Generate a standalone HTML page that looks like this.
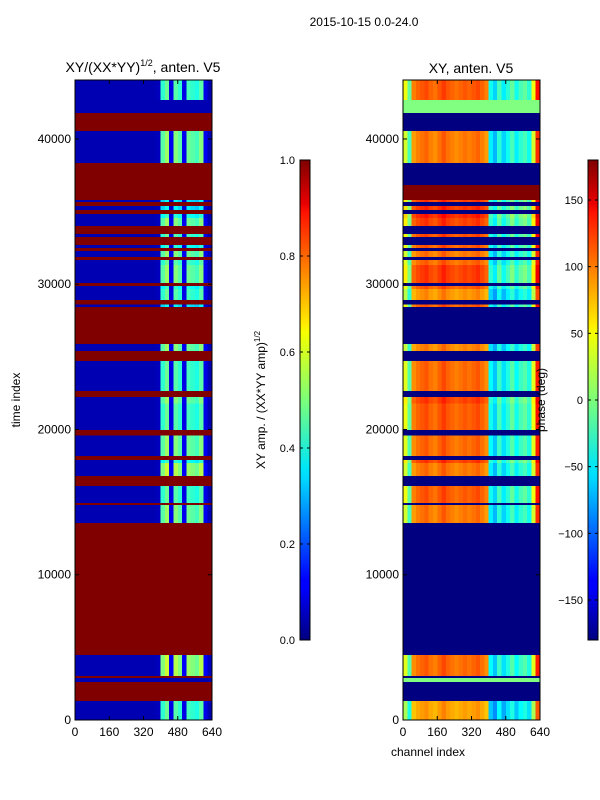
<!DOCTYPE html>
<html><head><meta charset="utf-8"><style>
body{margin:0;background:#fff;}
svg{display:block;font-family:"Liberation Sans","DejaVu Sans",sans-serif;}
</style></head><body>
<svg id="fig" width="600" height="800" viewBox="0 0 600 800">
<defs>
<linearGradient id="jetg" x1="0" y1="1" x2="0" y2="0">
<stop offset="0" stop-color="#00007f"/><stop offset="0.11" stop-color="#0000ff"/><stop offset="0.125" stop-color="#0000ff"/>
<stop offset="0.34" stop-color="#00dcff"/><stop offset="0.36" stop-color="#00e6f6"/><stop offset="0.5" stop-color="#7cff79"/>
<stop offset="0.64" stop-color="#f6ff00"/><stop offset="0.66" stop-color="#ffea00"/><stop offset="0.89" stop-color="#ff1300"/>
<stop offset="0.91" stop-color="#e80000"/><stop offset="1" stop-color="#7f0000"/>
</linearGradient>
</defs>
<text x="364" y="26" font-size="12" text-anchor="middle">2015-10-15 0.0-24.0</text>
<g id="left"></g>
<g id="right"></g>
<g id="axes"></g>
</svg>
<script>
// band edges in time index (top to bottom) and kind: D=data, F=flagged, G=green(phase-only), R=red phase
const bandStart=[44060,42680,41790,40550,38350,36830,35800,35660,35390,35110,34840,34560,34010,33460,33260,32710,32500,32290,31880,31670,31320,30080,29870,29660,28900,28620,28420,25870,25390,24700,22640,22230,21790,19980,19570,18190,17910,17700,16800,16100,14930,14800,13560,4480,3030,2890,2620,1310];
const bandEnd=  [42680,41790,40550,38350,36830,35800,35660,35390,35110,34840,34560,34010,33460,33260,32710,32500,32290,31880,31670,31320,30080,29870,29660,28900,28620,28420,25870,25390,24700,22640,22230,21790,19980,19570,18190,17910,17700,16800,16100,14930,14800,13560,4480,3030,2890,2620,1310,0];
const bandKind= ["D","G","F","D","F","R","D","F","D","F","D","D","F","D","F","D","F","D","F","D","D","F","D","D","F","D","F","D","F","D","F","D","D","F","D","F","D","D","F","D","F","D","F","D","F","G","F","D"];
const bandGain= [1.0,1,1,1.1,1,1,0.8,1,0.8,1,0.9,1.1,1,1.0,1,0.9,1,1.1,1,1.0,1.1,1,0.9,1.0,1,0.8,1,1.1,1,1.0,1,1.1,1.0,1,1.1,1,0.9,1.2,1,1.0,1,1.1,1,1.2,1,1,1,1.0];
const bandPhase=[0,0,0,-10,0,0,10,0,15,0,20,10,0,5,0,0,0,-10,0,-5,10,0,0,-20,0,0,0,-15,0,-5,0,10,0,0,-5,0,10,-10,0,0,0,-10,0,-5,0,0,0,-25];
// channel profile (32 bins of 20 channels)
const ampProfile=[0.05,0.05,0.05,0.05,0.05,0.05,0.05,0.05,0.05,0.05,0.05,0.05,0.05,0.05,0.05,0.05,0.05,0.05,0.05,0.06,0.42,0.48,0.1,0.46,0.42,0.1,0.44,0.42,0.4,0.46,0.1,0.05];
const phaseProfile=[40,-10,90,100,105,110,100,95,105,115,105,100,95,100,105,100,105,110,100,90,-40,-60,-20,-50,-30,-10,-40,-20,-10,-30,40,130];
const yTicks=[0,10000,20000,30000,40000];
const xTicks=[0,160,320,480,640];
const ampTicks=[0.0,0.2,0.4,0.6,0.8,1.0];
const phaseTicks=[-150,-100,-50,0,50,100,150];
const NS="http://www.w3.org/2000/svg";
const PY0=720,PY1=80,TMAX=44060;
const yS=t=>PY0-(t/TMAX)*(PY0-PY1);
function xS(x0,ch){return x0+ch/640*137;}
function jet(v){v=Math.max(0,Math.min(1,v));
 const r=Math.min(4*v-1.5,-4*v+4.5),g=Math.min(4*v-0.5,-4*v+3.5),b=Math.min(4*v+0.5,-4*v+2.5);
 const c=x=>Math.round(255*Math.max(0,Math.min(1,x)));return `rgb(${c(r)},${c(g)},${c(b)})`;}
function el(tag,attrs,parent){const e=document.createElementNS(NS,tag);for(const k in attrs)e.setAttribute(k,attrs[k]);parent.appendChild(e);return e;}
const L=document.getElementById('left'),R=document.getElementById('right'),A=document.getElementById('axes');
for(let i=0;i<bandStart.length;i++){
 const y0=yS(bandStart[i]),y1=yS(bandEnd[i]),k=bandKind[i];
 for(let j=0;j<32;j++){
  let av,pv;
  if(k==="F"){av=1;pv=-180;}
  else if(k==="G"){av=0.05;pv=0;}
  else if(k==="R"){av=1;pv=180;}
  else{av=j<20?ampProfile[j]:ampProfile[j]*bandGain[i];pv=phaseProfile[j]+bandPhase[i];}
  const xa=xS(75,j*20),xb=xS(75,(j+1)*20);
  const ra=el('rect',{x:xa,y:y0,width:xb-xa+0.3,height:y1-y0+0.3,fill:jet(av),'shape-rendering':'crispEdges'},L);
  
  
  const xc=xS(403,j*20),xd=xS(403,(j+1)*20);
  const rp=el('rect',{x:xc,y:y0,width:xd-xc+0.3,height:y1-y0+0.3,fill:jet((pv+180)/360),'shape-rendering':'crispEdges'},R);
  
  
 }
}
function txt(x,y,s,attrs,name){const t=el('text',Object.assign({x:x,y:y,'font-size':'12'},attrs||{}),A);t.textContent=s;return t;}
[75,403].forEach((x0,pi)=>{
 const f=el('rect',{x:x0,y:80,width:137,height:640,fill:'none',stroke:'#000','stroke-width':1},A);
 
 
 yTicks.forEach(t=>{const y=yS(t);
  el('line',{x1:x0,x2:x0+4,y1:y,y2:y,stroke:'#000'},A);el('line',{x1:x0+137,x2:x0+133,y1:y,y2:y,stroke:'#000'},A);
  txt(x0-4,y+4,String(t),{'text-anchor':'end'},'y-tick-label');});
 xTicks.forEach(c=>{const x=xS(x0,c);
  el('line',{x1:x,x2:x,y1:720,y2:716,stroke:'#000'},A);el('line',{x1:x,x2:x,y1:80,y2:84,stroke:'#000'},A);
  txt(x,736,String(c),{'text-anchor':'middle'},'x-tick-label');});
});
const t1=txt(143,72,'XY/(XX*YY)',{'text-anchor':'middle','font-size':'14'},'amp-plot-title');
t1.innerHTML='XY/(XX*YY)<tspan font-size="9" dy="-6">1/2</tspan><tspan dy="6">, anten. V5</tspan>';
txt(471,73,'XY, anten. V5',{'text-anchor':'middle','font-size':'14'},'phase-plot-title');
txt(20,400,'time index',{'text-anchor':'middle',transform:'rotate(-90 20 400)'},'y-axis-title');
txt(428,756,'channel index',{'text-anchor':'middle'},'x-axis-title');
// colorbars
[[300,ampTicks,v=>640-v*480,'amp-colorbar'],[588,phaseTicks,v=>400-v*480/360,'phase-colorbar']].forEach(([x0,ticks,f,nm])=>{
 const r=el('rect',{x:x0,y:160,width:10,height:480,fill:'url(#jetg)',stroke:'#000'},A);
 
 
 ticks.forEach(v=>{const y=f(v);el('line',{x1:x0,x2:x0+3,y1:y,y2:y,stroke:'#000'},A);el('line',{x1:x0+10,x2:x0+7,y1:y,y2:y,stroke:'#000'},A);
  txt(x0-5,y+4,nm==='amp-colorbar'?v.toFixed(1):String(v).replace('-','\u2212'),{'text-anchor':'end','font-size':'11'},'colorbar-tick-label');});
});
const t2=txt(265,400,'',{'text-anchor':'middle',transform:'rotate(-90 265 400)'},'amp-colorbar-title');
t2.innerHTML='XY amp. / (XX*YY amp)<tspan font-size="8" dy="-5">1/2</tspan>';
txt(545,400,'phase (deg)',{'text-anchor':'middle',transform:'rotate(-90 545 400)'},'phase-colorbar-title');
</script>
</body></html>
